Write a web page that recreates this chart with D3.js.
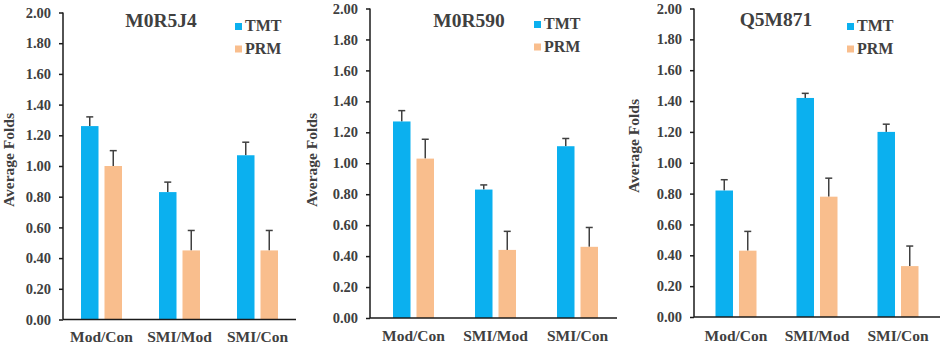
<!DOCTYPE html>
<html>
<head>
<meta charset="utf-8">
<script src="https://cdn.jsdelivr.net/npm/d3@7"></script>
<style>
  body { margin: 0; background: #fff; }
</style>
</head>
<body>
<svg id="chart" width="941" height="344"></svg>
<script>
const categories = ["Mod/Con", "SMI/Mod", "SMI/Con"];
const series = ["TMT", "PRM"];
const proteins = ["M0R5J4", "M0R590", "Q5M871"];
const tmtValues = [[1.26, 0.83, 1.07], [1.27, 0.83, 1.11], [0.82, 1.42, 1.20]];
const tmtErrors = [[0.06, 0.065, 0.085], [0.07, 0.03, 0.05], [0.07, 0.03, 0.05]];
const prmValues = [[1.00, 0.45, 0.45], [1.03, 0.44, 0.46], [0.43, 0.78, 0.33]];
const prmErrors = [[0.10, 0.13, 0.13], [0.125, 0.12, 0.125], [0.125, 0.12, 0.13]];
const yTicks = [0, 0.2, 0.4, 0.6, 0.8, 1.0, 1.2, 1.4, 1.6, 1.8, 2.0];

const colors = {TMT: "#0bb0ef", PRM: "#f9be8d"};
const FONT = "'Liberation Serif', 'Times New Roman', Times, 'DejaVu Serif', serif";

// where each panel sits on the page
const layout = [
  {axisX: 63, xr: [62.5, 296.5], y0: 319.5, y2: 12.5, xEnd: 296, titleX: 161, titleY: 27, legX: 235, legY: 31, labX: 9, labY: 160, catY: 342},
  {axisX: 370, xr: [372.5, 618.5], y0: 318, y2: 8.5, xEnd: 617, titleX: 469, titleY: 27, legX: 534, legY: 29, labX: 312, labY: 160, catY: 341},
  {axisX: 694, xr: [695.5, 938.5], y0: 317, y2: 8.5, xEnd: 940, titleX: 776, titleY: 26, legX: 847, legY: 31, labX: 634, labY: 146, catY: 341}
];

const svg = d3.select("#chart");

proteins.forEach((p, i) => {
  const L = layout[i];
  const g = svg.append("g")
    .attr("font-family", FONT)
    .attr("font-weight", "bold")
    .attr("fill", "#404040");

  const x0 = d3.scaleBand().domain(categories).range(L.xr);
  const c = x0.bandwidth() / 2;
  const x1 = d3.scaleBand().domain(series).range([c - 20.5, c + 20.5]).paddingInner(0.255);
  const y = d3.scaleLinear().domain([0, 2]).range([L.y0, L.y2]);

  const rows = categories.map((cat, j) => ({
    cat: cat,
    vals: [
      {s: "TMT", v: tmtValues[i][j], e: tmtErrors[i][j]},
      {s: "PRM", v: prmValues[i][j], e: prmErrors[i][j]}
    ]
  }));

  const grp = g.selectAll(".grp")
    .data(rows)
    .enter().append("g")
    .attr("transform", d => `translate(${x0(d.cat)},0)`);

  const bar = grp.selectAll("g")
    .data(d => d.vals)
    .enter().append("g");

  // error bars (upper only)
  bar.append("line")
    .attr("x1", d => x1(d.s) + x1.bandwidth() / 2)
    .attr("x2", d => x1(d.s) + x1.bandwidth() / 2)
    .attr("y1", d => y(d.v))
    .attr("y2", d => y(d.v + d.e))
    .attr("stroke", "#404040")
    .attr("stroke-width", 1.5);
  bar.append("line")
    .attr("x1", d => x1(d.s) + x1.bandwidth() / 2 - 3.5)
    .attr("x2", d => x1(d.s) + x1.bandwidth() / 2 + 3.5)
    .attr("y1", d => y(d.v + d.e))
    .attr("y2", d => y(d.v + d.e))
    .attr("stroke", "#404040")
    .attr("stroke-width", 1.5);

  bar.append("rect")
    .attr("x", d => x1(d.s))
    .attr("width", x1.bandwidth())
    .attr("y", d => y(d.v))
    .attr("height", d => y(0) - y(d.v))
    .attr("fill", d => colors[d.s]);

  // y axis
  const yAxis = d3.axisLeft(y).tickValues(yTicks).tickFormat(d3.format(".2f")).tickSize(4).tickPadding(8);
  const ya = g.append("g")
    .attr("transform", `translate(${L.axisX},0)`)
    .call(yAxis)
    .attr("font-family", FONT)
    .attr("font-size", 14.5);
  ya.select(".domain").attr("stroke", "#1a1a1a").attr("stroke-width", 1.5).attr("d", `M0,${L.y2}V${L.y0}`);
  ya.selectAll(".tick line").attr("stroke", "#1a1a1a").attr("stroke-width", 1.5);
  ya.selectAll(".tick text").attr("fill", "#404040");

  // x axis line
  g.append("line")
    .attr("x1", L.axisX).attr("x2", L.xEnd)
    .attr("y1", y(0)).attr("y2", y(0))
    .attr("stroke", "#1a1a1a").attr("stroke-width", 1.5);

  g.selectAll(".cat")
    .data(categories)
    .enter().append("text")
    .attr("x", d => x0(d) + c)
    .attr("y", L.catY)
    .attr("text-anchor", "middle")
    .attr("font-size", 15.5)
    .text(d => d);

  // title
  g.append("text")
    .attr("x", L.titleX).attr("y", L.titleY)
    .attr("text-anchor", "middle")
    .attr("font-size", 19.5)
    .text(p);

  // y label
  g.append("text")
    .attr("transform", `translate(${L.labX},${L.labY}) rotate(-90)`)
    .attr("text-anchor", "middle")
    .attr("dy", "0.35em")
    .attr("font-size", 15.5)
    .text("Average Folds");

  // legend
  series.forEach((s, k) => {
    g.append("rect")
      .attr("x", L.legX).attr("y", L.legY - 8 + k * 22.5)
      .attr("width", 7).attr("height", 7)
      .attr("fill", colors[s]);
    g.append("text")
      .attr("x", L.legX + 10).attr("y", L.legY + k * 22.5)
      .attr("font-size", 16)
      .text(s);
  });
});
</script>
</body>
</html>
